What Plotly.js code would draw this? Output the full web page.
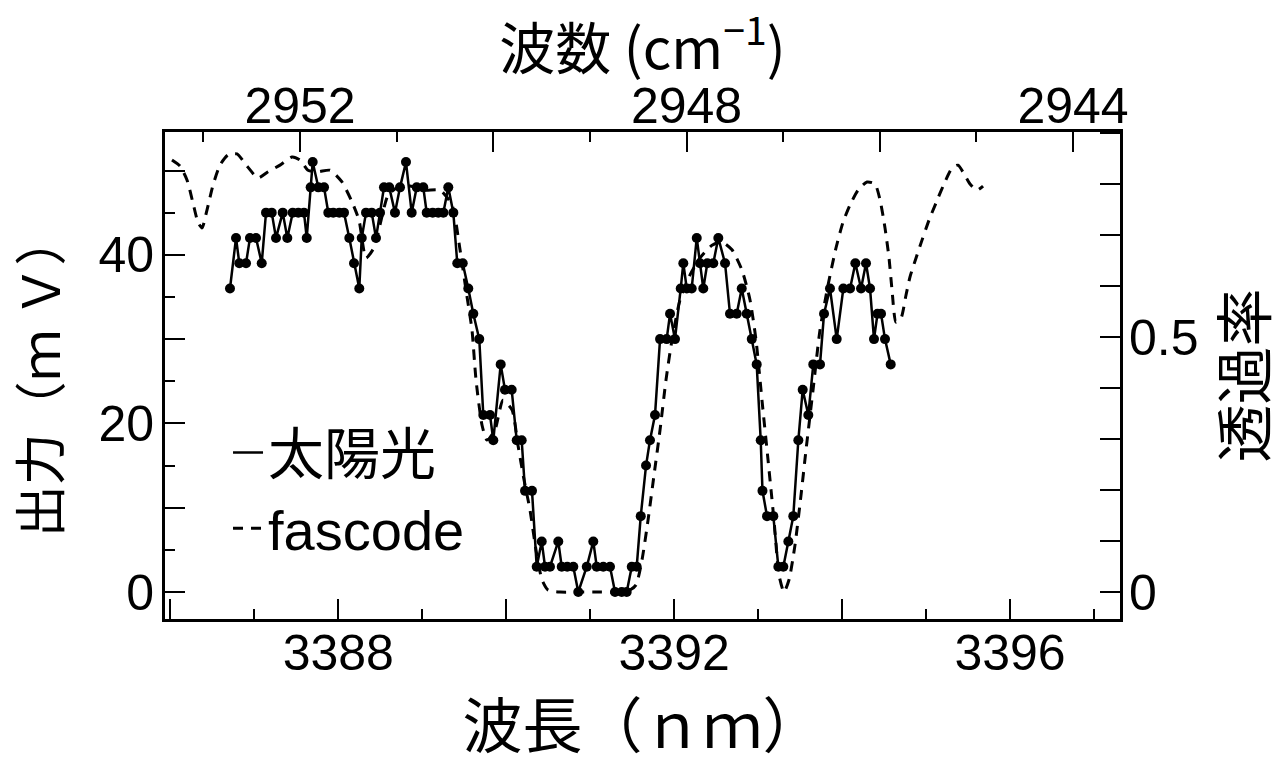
<!DOCTYPE html>
<html>
<head>
<meta charset="utf-8">
<script src="https://cdn.plot.ly/plotly-3.0.1.min.js"></script>
<style>
  html, body { margin: 0; padding: 0; background: #fff; }
  #chart { width: 1286px; height: 765px; }
</style>
</head>
<body>
<div id="chart"></div>
<script>
// ---- Data ----
// Solar spectrum (measured output, mV) vs wavelength (nm)
const sunWavelength = [3386.710,3386.782,3386.821,3386.901,3386.948,3387.020,3387.088,3387.139,3387.207,3387.258,
  3387.338,3387.393,3387.457,3387.524,3387.591,3387.624,3387.671,3387.695,3387.762,3387.830,
  3387.881,3387.940,3388.012,3388.068,3388.131,3388.187,3388.250,3388.279,3388.330,3388.398,
  3388.449,3388.497,3388.544,3388.607,3388.675,3388.735,3388.806,3388.874,3388.934,3389.012,
  3389.053,3389.124,3389.191,3389.251,3389.310,3389.370,3389.417,3389.482,3389.548,3389.608,
  3389.679,3389.727,3389.807,3389.846,3389.934,3389.985,3390.065,3390.125,3390.184,3390.224,
  3390.307,3390.363,3390.423,3390.462,3390.521,3390.620,3390.661,3390.727,3390.799,3390.858,
  3390.959,3391.037,3391.078,3391.156,3391.236,3391.296,3391.375,3391.435,3391.495,3391.554,
  3391.602,3391.665,3391.712,3391.772,3391.832,3391.911,3391.951,3392.010,3392.078,3392.109,
  3392.150,3392.209,3392.269,3392.308,3392.347,3392.395,3392.466,3392.526,3392.606,3392.665,
  3392.745,3392.805,3392.864,3392.924,3392.983,3393.031,3393.052,3393.106,3393.181,3393.241,
  3393.300,3393.360,3393.419,3393.479,3393.531,3393.598,3393.657,3393.737,3393.785,3393.856,
  3393.936,3394.015,3394.095,3394.158,3394.226,3394.285,3394.333,3394.380,3394.422,3394.464,
  3394.511,3394.579];
const sunOutput = [36,42,39,39,42,42,39,45,45,42,
  45,42,45,45,45,42,48,51,48,48,
  45,45,45,45,42,39,36,42,45,45,
  42,45,48,48,45,48,51,45,48,48,
  45,45,45,45,48,45,39,39,36,33,
  30,21,21,18,27,24,24,18,18,12,
  12,3,6,3,3,6,3,3,3,0,
  3,6,3,3,3,0,0,0,3,3,
  9,15,18,21,30,30,33,30,36,39,
  36,36,42,39,36,39,39,42,39,33,
  33,36,33,30,27,18,12,9,9,3,
  3,6,9,18,24,21,27,27,33,36,
  30,36,36,39,36,39,36,30,33,33,
  30,27];

// FASCODE computed transmittance vs wavelength (nm)
const fasWavelength = [3386.019,3386.115,3386.198,3386.269,3386.329,3386.377,3386.436,3386.508,3386.591,3386.686,
  3386.793,3386.913,3387.044,3387.163,3387.306,3387.449,3387.544,3387.639,3387.758,3387.901,
  3388.044,3388.163,3388.247,3388.330,3388.425,3388.497,3388.592,3388.711,3388.854,3389.033,
  3389.211,3389.354,3389.450,3389.521,3389.592,3389.640,3389.712,3389.771,3389.866,3389.962,
  3390.069,3390.140,3390.212,3390.283,3390.355,3390.426,3390.498,3390.641,3390.879,3391.117,
  3391.355,3391.474,3391.546,3391.617,3391.689,3391.760,3391.832,3391.903,3391.974,3392.070,
  3392.189,3392.308,3392.451,3392.570,3392.689,3392.808,3392.903,3392.975,3393.046,3393.118,
  3393.189,3393.249,3393.308,3393.368,3393.439,3393.511,3393.570,3393.654,3393.737,3393.833,
  3393.928,3394.011,3394.095,3394.190,3394.297,3394.392,3394.452,3394.511,3394.559,3394.595,
  3394.642,3394.702,3394.761,3394.809,3394.881,3394.952,3395.035,3395.119,3395.214,3395.309,
  3395.381,3395.452,3395.524,3395.607,3395.679];
const fasTransmittance = [0.847,0.835,0.808,0.763,0.725,0.714,0.749,0.798,0.837,0.857,
  0.859,0.835,0.812,0.824,0.837,0.853,0.847,0.827,0.824,0.827,
  0.804,0.765,0.729,0.655,0.675,0.720,0.778,0.794,0.796,0.788,
  0.788,0.759,0.671,0.592,0.514,0.416,0.327,0.298,0.318,0.376,
  0.357,0.288,0.220,0.161,0.082,0.024,0.004,0,0,0,
  0,0.004,0.014,0.063,0.141,0.229,0.318,0.416,0.494,0.573,
  0.622,0.655,0.680,0.686,0.671,0.631,0.573,0.494,0.376,0.259,
  0.141,0.033,0,0.024,0.092,0.190,0.278,0.396,0.514,0.602,
  0.675,0.725,0.759,0.788,0.804,0.800,0.769,0.714,0.655,0.592,
  0.529,0.537,0.582,0.618,0.655,0.690,0.729,0.763,0.800,0.831,
  0.837,0.820,0.800,0.788,0.796];

// Tick definitions
const wavelengthMajor = [3386,3388,3390,3392,3394,3396];
const wavelengthLabels = ['','3388','','3392','','3396'];
const wavelengthMinor = [3387,3389,3391,3393,3395,3397];
const wavenumberMajor = [2944,2946,2948,2950,2952];
const wavenumberLabels = ['2944','','2948','','2952'];
const wavenumberMinor = [2945,2947,2949,2951,2953];
const outputMajor = [0,10,20,30,40,50];
const outputLabels = ['0','','20','','40',''];
const outputMinor = [5,15,25,35,45];
const transLabelled = [0,0.5];
const transLabels = ['0','0.5'];
const transOther = [0.1,0.2,0.3,0.4,0.6,0.7,0.8,0.9];

const legendNames = ['太陽光','fascode'];

// ---- Chart ----
const FONT = 'Liberation Sans, Arial, Noto Sans CJK JP, sans-serif';
const CJK = 'Noto Sans CJK JP, Liberation Sans, sans-serif';

const traces = [
  { x: [null], y: [null], mode: 'lines', name: legendNames[0],
    line: { color: 'black', width: 2.5 }, hoverinfo: 'skip' },
  { x: fasWavelength, y: fasTransmittance, yaxis: 'y2', mode: 'lines', name: legendNames[1],
    line: { color: 'black', width: 3, dash: '10px,8px', shape: 'spline', smoothing: 0.6 } },
  { x: sunWavelength, y: sunOutput, mode: 'lines+markers', name: legendNames[0], showlegend: false,
    line: { color: 'black', width: 2.5 },
    marker: { color: 'black', size: 10, symbol: 'circle' } },
  // carries the top (wavenumber) axis; draws nothing
  { x: [wavenumberMajor[0]], y: [null], xaxis: 'x2', yaxis: 'y', mode: 'markers',
    showlegend: false, hoverinfo: 'skip' }
];

const axisCommon = {
  showgrid: false, zeroline: false, showline: true, linecolor: 'black', linewidth: 3,
  ticks: 'inside', ticklen: 20, tickwidth: 2, tickcolor: 'black',
  tickfont: { family: FONT, size: 50, color: 'black' },
  tickmode: 'array'
};
const minorCommon = { tickmode: 'array', ticks: 'inside', ticklen: 10, tickwidth: 2, tickcolor: 'black', showgrid: false };

const layout = {
  width: 1286, height: 765,
  margin: { l: 165, r: 166, t: 132, b: 146, pad: 0 },
  paper_bgcolor: 'white', plot_bgcolor: 'white',
  font: { family: FONT, color: 'black' },
  showlegend: true,
  legend: {
    x: 0.066, y: 0.43, xanchor: 'left', yanchor: 'top',
    bgcolor: 'rgba(0,0,0,0)', borderwidth: 0,
    font: { family: FONT, size: 56, color: 'black' },
    tracegroupgap: 0
  },
  xaxis: Object.assign({}, axisCommon, {
    range: [3385.936, 3397.310],
    tickvals: wavelengthMajor, ticktext: wavelengthLabels,
    minor: Object.assign({ tickvals: wavelengthMinor }, minorCommon),
    ticklabelstandoff: -12,
    title: { text: '波長（ｎｍ）', font: { family: CJK, size: 60, color: 'black' }, standoff: 45 }
  }),
  xaxis2: Object.assign({}, axisCommon, {
    overlaying: 'x', side: 'top', anchor: 'y',
    range: [2953.397, 2943.514],
    tickvals: wavenumberMajor, ticktext: wavenumberLabels,
    minor: Object.assign({ tickvals: wavenumberMinor }, minorCommon),
    ticklabelstandoff: -14,
    title: { text: '波数 (cm<sup>−1</sup>)', font: { family: CJK, size: 56, color: 'black' }, standoff: 36 }
  }),
  yaxis: Object.assign({}, axisCommon, {
    range: [-3.203, 54.567],
    tickvals: outputMajor, ticktext: outputLabels,
    minor: Object.assign({ tickvals: outputMinor }, minorCommon),
    ticklabelstandoff: -2,
    title: { text: '出力（ｍ Ｖ）', font: { family: CJK, size: 52, color: 'black' }, standoff: 58 }
  }),
  yaxis2: Object.assign({}, axisCommon, {
    overlaying: 'y', side: 'right', anchor: 'x',
    range: [-0.0529, 0.902],
    tickvals: transLabelled, ticktext: transLabels,
    minor: Object.assign({ tickvals: transOther }, minorCommon, { ticklen: 20 }),
    ticklabelstandoff: -4,
    title: { text: '透過率', font: { family: CJK, size: 58, color: 'black' }, standoff: 10 }
  })
};

Plotly.newPlot('chart', traces, layout, { staticPlot: true, displayModeBar: false });
</script>
</body>
</html>
